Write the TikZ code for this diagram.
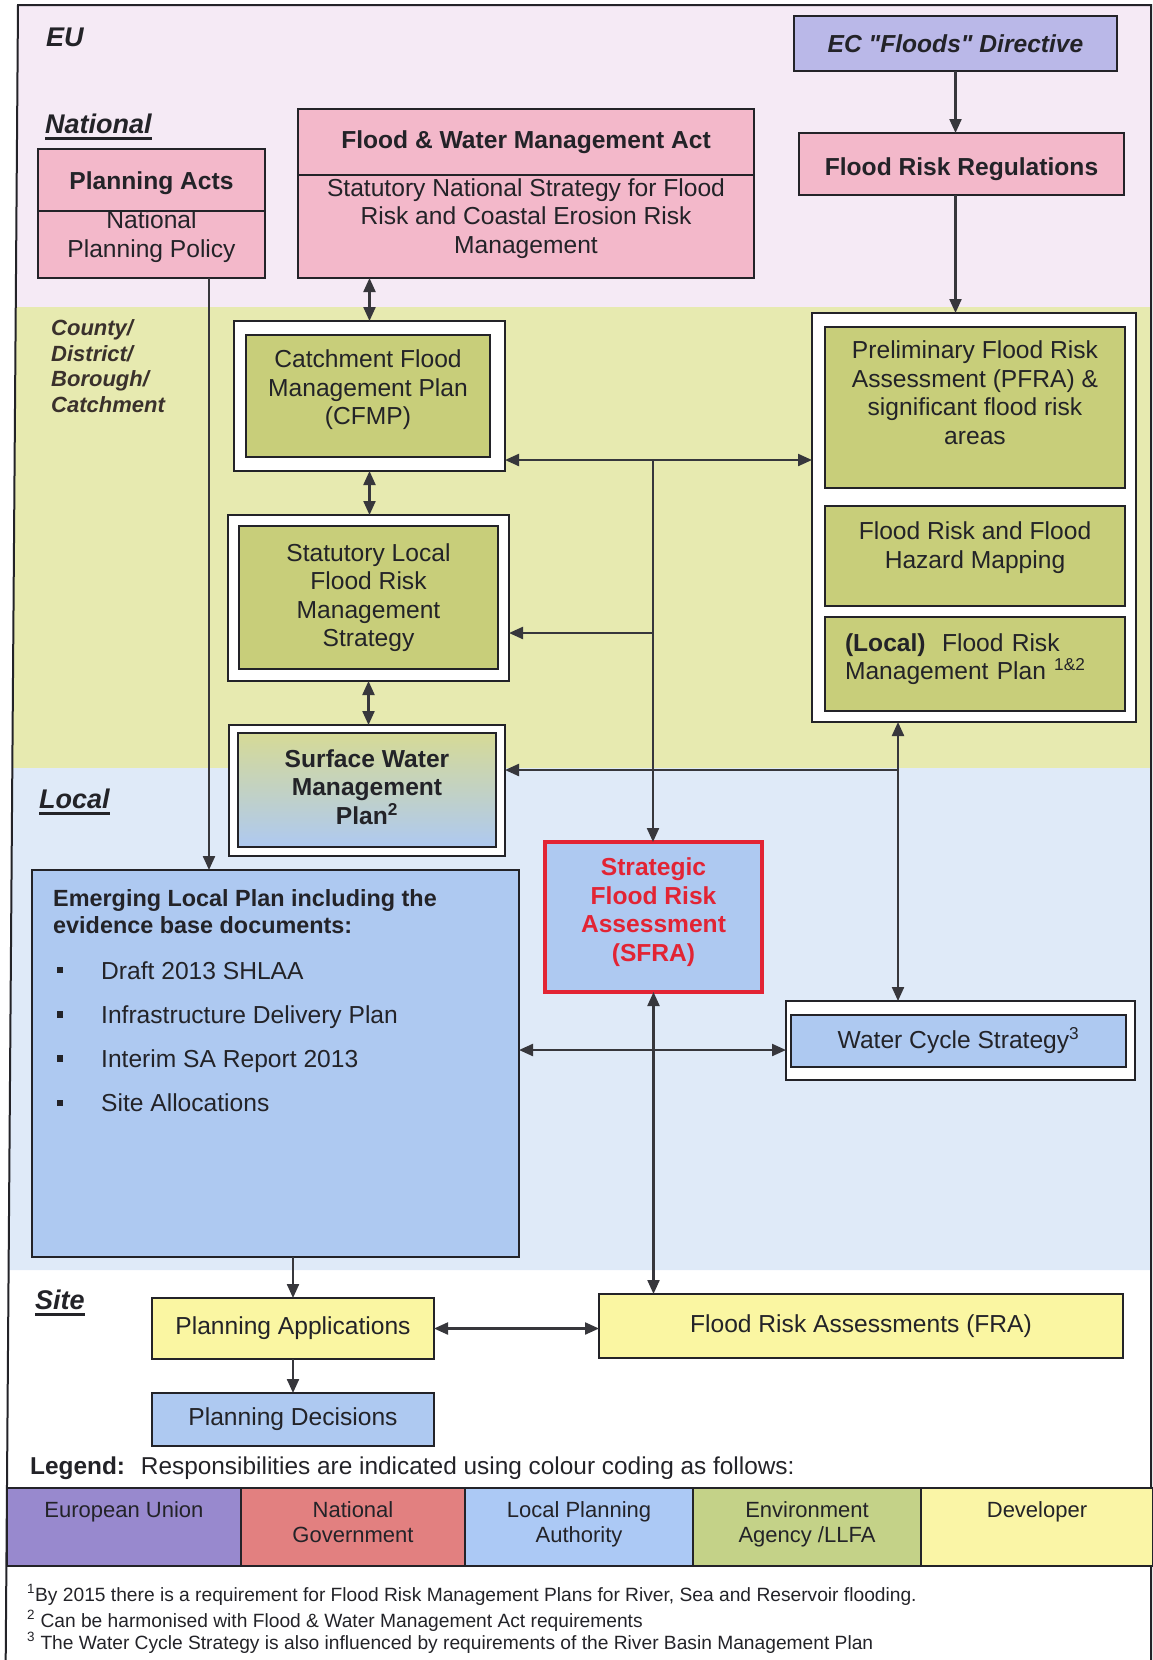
\documentclass[tikz,border=0pt]{standalone}
\usepackage{fontspec}
\setmainfont{Liberation Sans}
\usetikzlibrary{arrows.meta}
\definecolor{ink}{RGB}{35,35,40}
\definecolor{linkgray}{RGB}{55,55,60}
\definecolor{bandpink}{RGB}{245,234,245}
\definecolor{bandgreen}{RGB}{231,234,176}
\definecolor{bandblue}{RGB}{223,234,248}
\definecolor{natpink}{RGB}{243,184,202}
\definecolor{eulav}{RGB}{186,184,232}
\definecolor{eagreen}{RGB}{200,206,122}
\definecolor{lpablue}{RGB}{174,201,241}
\definecolor{devyellow}{RGB}{250,246,162}
\definecolor{swtop}{RGB}{214,218,150}
\definecolor{sfrared}{RGB}{226,36,52}
\definecolor{keypurple}{RGB}{152,137,206}
\definecolor{keyred}{RGB}{226,128,128}
\definecolor{keyblue}{RGB}{172,201,245}
\definecolor{keygreen}{RGB}{196,210,136}
\definecolor{keyyellow}{RGB}{250,245,166}
\newcommand{\bodyfont}{\fontsize{24.6}{28.5}\selectfont}
\newcommand{\tierfont}{\fontsize{27}{30}\selectfont\bfseries\itshape}
\newcommand{\areafont}{\fontsize{22}{25.5}\selectfont\bfseries\itshape}
\newcommand{\keyfont}{\fontsize{22}{25}\selectfont}
\newcommand{\notefont}{\fontsize{19.2}{22}\selectfont}
\tikzset{%
  box/.style={draw=ink, line width=1.8pt, inner sep=0pt, outer sep=0pt,
    align=center, font=\bodyfont, text=ink},
  dims/.style 2 args={minimum width=#1pt, minimum height=#2pt},
  caption/.style={inner sep=0pt, align=center, font=\bodyfont, text=ink},
  lift/.style 2 args={label={[caption, yshift=#1pt]center:{#2}}},
  natbox/.style={box, fill=natpink},
  eubox/.style={box, fill=eulav},
  eabox/.style={box, fill=eagreen},
  lpabox/.style={box, fill=lpablue},
  devbox/.style={box, fill=devyellow},
  holder/.style={box, fill=white},
  link/.style={draw=linkgray, line width=2.2pt, -{Triangle[length=14pt,width=12pt]}},
  both/.style={link, {Triangle[length=14pt,width=12pt]}-{Triangle[length=14pt,width=12pt]}},
  tier/.style={font=\tierfont, text=ink, inner sep=0pt, anchor=west},
  area/.style={font=\areafont, text=ink!85!brown, inner sep=0pt, anchor=west, align=left},
  dot/.style={fill=ink, minimum size=6.5pt, inner sep=0pt},
  entry/.style={font=\bodyfont, text=ink, inner sep=0pt, anchor=base west},
  keycell/.style={draw=ink, line width=1.6pt, minimum height=78pt, inner sep=0pt},
  keytext/.style={font=\keyfont, text=ink, inner sep=0pt, anchor=north, align=center},
  note/.style={font=\notefont, text=ink, inner sep=0pt, anchor=west},
}
\begin{document}
\begin{tikzpicture}[x=1pt,y=-1pt]
  \useasboundingbox (0,0) rectangle (1153,1660);
  % tiers of responsibility
  \fill[bandpink] (18,5) -- (1151,5) -- (1151,307) -- (15.8,307) -- cycle;
  \fill[bandgreen] (15.8,307) -- (1151,307) -- (1151,768) -- (12.3,768) -- cycle;
  \fill[bandblue] (12.3,768) -- (1151,768) -- (1151,1270) -- (8.6,1270) -- cycle;
  \draw[ink, line width=2pt] (5.7,1660) -- (18,5) -- (1151,5) -- (1151,1660);

  \node[tier] (eu tag) at (46,37) {EU};
  \node[tier] (nat tag) at (45,124) {National};
  \node[tier] (local tag) at (39,799) {Local};
  \node[tier] (site tag) at (35,1300) {Site};
  \foreach \t in {nat tag, local tag, site tag}
    \draw[ink, line width=2.6pt] ([yshift=-5pt]\t.base west) -- ([yshift=-5pt]\t.base east);
  \node[area] (county tag) at (51,366) {County/\\District/\\Borough/\\Catchment};

  % national
  \node[eubox, dims={323}{55}, font=\bodyfont\bfseries\itshape] (ec) at (955.5,43.5) {EC \textquotedbl Floods\textquotedbl{} Directive};
  \node[natbox, dims={325}{62}, lift={-5}{\bfseries Flood Risk Regulations}] (frr) at (961.5,164) {};
  \node[natbox, dims={227}{62}, lift={-3}{\bfseries Planning Acts}] (pa head) at (151.5,180) {};
  \node[natbox, dims={227}{67}, lift={8}{National\\Planning Policy}] (pa body) at (151.5,244.5) {};
  \node[natbox, dims={456}{66}, font=\bodyfont\bfseries] (fwma head) at (526,142) {Flood \& Water Management Act};
  \node[natbox, dims={456}{103}, lift={8}{Statutory National Strategy for Flood\\Risk and Coastal Erosion Risk\\Management}] (fwma body) at (526,226.5) {};

  % county / district / borough / catchment
  \node[holder, dims={271}{150}] (cfmp frame) at (369.5,396) {};
  \node[eabox, dims={244}{122}, lift={6}{Catchment Flood\\Management Plan\\(CFMP)}] (cfmp) at (368,396) {};
  \node[holder, dims={281}{166}] (lfrms frame) at (368.5,598) {};
  \node[eabox, dims={259}{143}] (lfrms) at (368.5,597.5) {Statutory Local\\Flood Risk\\Management\\Strategy};
  \node[holder, dims={276}{131}] (swmp frame) at (367,790.5) {};
  \node[box, dims={258}{114}, top color=swtop, bottom color=lpablue, lift={3}{\bfseries Surface Water\\\bfseries Management\\\bfseries Plan\textsuperscript{2}}] (swmp) at (367,790) {};

  \node[holder, dims={324}{409}] (pfra group) at (974,517.5) {};
  \node[eabox, dims={300}{161}, lift={15}{Preliminary Flood Risk\\Assessment (PFRA) \&\\significant flood risk\\areas}] (pfra) at (975,407.5) {};
  \node[eabox, dims={300}{100}, lift={8.5}{Flood Risk and Flood\\Hazard Mapping}] (frfhm) at (975,556) {};
  \node[eabox, dims={300}{94}, label={[caption, align=left, text width=260pt, yshift=5pt]center:{\textbf{(Local)}~ Flood Risk\\Management Plan \textsuperscript{1\&2}}}] (lfrmp) at (975,664) {};

  % local
  \node[lpabox, dims={487}{387}] (elp) at (275.5,1063.5) {};
  \node[anchor=north west, inner sep=0pt, align=left, text=ink,
    font=\fontsize{23.4}{27}\selectfont\bfseries] (elp head) at (53,889) {Emerging Local Plan including the\\evidence base documents:};
  \foreach \entrytext [count=\i] in {Draft 2013 SHLAA, Infrastructure Delivery Plan, Interim SA Report 2013, Site Allocations} {
    \node[dot] (dot\i) at (60,{970+44.3*(\i-1)}) {};
    \node[entry] (entry\i) at (101,{979+44.3*(\i-1)}) {\entrytext};
  }
  \node[lpabox, draw=sfrared, line width=3.2pt, dims={217}{150},
    label={[caption, text=sfrared, font=\bodyfont\bfseries, yshift=5pt]center:{Strategic\\Flood Risk\\Assessment\\(SFRA)}}] (sfra) at (653.5,917) {};
  \node[holder, dims={349}{79}] (wcs frame) at (960.5,1040.5) {};
  \node[lpabox, dims={335}{52}] (wcs) at (958.5,1041) {Water Cycle Strategy\textsuperscript{3}};

  % site
  \node[devbox, dims={282}{61}] (papp) at (293,1328.5) {Planning Applications};
  \node[devbox, dims={524}{64}] (fra) at (861,1326) {Flood Risk Assessments (FRA)};
  \node[lpabox, dims={282}{53}] (pd) at (293,1419.5) {Planning Decisions};

  % connectors
  \draw[link] (ec.south) -- (ec.south |- frr.north);
  \draw[link] (frr.south -| ec.south) -- (ec.south |- pfra group.north);
  \draw[both] (cfmp frame.north) -- (cfmp frame.north |- fwma body.south);
  \draw[both] (cfmp frame.south) -- (cfmp frame.south |- lfrms frame.north);
  \draw[both] (lfrms frame.south) -- (lfrms frame.south |- swmp frame.north);
  \coordinate (pa drop) at (209,0);
  \draw[link] (pa body.south -| pa drop) -- (elp.north -| pa drop);
  \coordinate (hub) at (653,460);
  \draw[both] (hub -| cfmp frame.east) -- (hub -| pfra group.west);
  \draw[link] (hub) -- (hub |- sfra.north);
  \coordinate (lfrms tap) at (653,633);
  \draw[link] (lfrms tap) -- (lfrms tap -| lfrms frame.east);
  \coordinate (wcs drop) at (898,770);
  \draw[both] (wcs drop |- pfra group.south) -- (wcs drop |- wcs frame.north);
  \draw[link] (wcs drop) -- (wcs drop -| swmp frame.east);
  \coordinate (mid link) at (656,1050);
  \draw[both] (mid link -| elp.east) -- (mid link -| wcs frame.west);
  \draw[both] (sfra.south) -- (sfra.south |- fra.north);
  \draw[link] (elp.south -| papp.north) -- (papp.north);
  \draw[both] (papp.east) -- (papp.east -| fra.west);
  \draw[link] (papp.south) -- (pd.north);

  % legend
  \node[anchor=west, inner sep=0pt, font=\fontsize{24.4}{27}\selectfont, text=ink] (legend) at (30,1468) {\textbf{Legend:}~ Responsibilities are indicated using colour coding as follows:};
  \foreach \xa/\xb/\tint/\keylabel [count=\k] in {7/241/keypurple/{European Union}, 241/465/keyred/{National\\Government}, 465/693/keyblue/{Local Planning\\Authority}, 693/921/keygreen/{Environment\\Agency /LLFA}, 921/1153/keyyellow/{Developer}} {
    \node[keycell, fill=\tint, minimum width={(\xb-\xa)*1pt}] (cell\k) at ({(\xa+\xb)/2},1527) {};
    \node[keytext] (key\k) at ({(\xa+\xb)/2},1501) {\keylabel};
  }
  \node[note] (note1) at (27,1595) {\textsuperscript{1}By 2015 there is a requirement for Flood Risk Management Plans for River, Sea and Reservoir flooding.};
  \node[note] (note2) at (27,1621) {\textsuperscript{2} Can be harmonised with Flood \& Water Management Act requirements};
  \node[note] (note3) at (27,1643) {\textsuperscript{3} The Water Cycle Strategy is also influenced by requirements of the River Basin Management Plan};
\end{tikzpicture}
\end{document}
